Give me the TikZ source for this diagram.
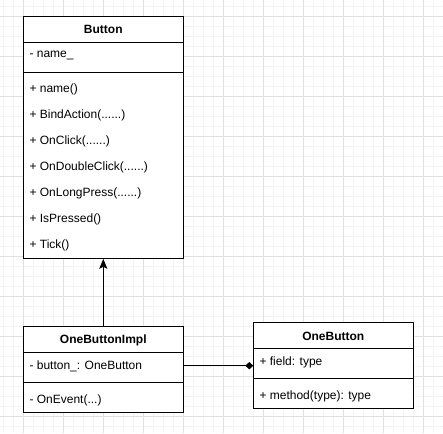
\documentclass[tikz,border=0pt]{standalone}
\usepackage{fontspec}
\setmainfont{Liberation Sans}
\usetikzlibrary{arrows.meta}
\definecolor{gridminor}{HTML}{F4F4F4}
\definecolor{gridmajor}{HTML}{E0E0E0}
\tikzset{
  umlbox/.style={draw=black, fill=white, line width=0.75pt, rectangle, minimum width=120pt, inner sep=0pt},
  title/.style={font=\fontsize{9pt}{10pt}\selectfont\bfseries, inner sep=0pt, anchor=center},
  member/.style={font=\fontsize{9pt}{10pt}\selectfont, inner sep=0pt, anchor=west},
  sepline/.style={line width=0.75pt, draw=black},
  conn/.style={line width=0.75pt, draw=black}
}
\begin{document}
\begin{tikzpicture}[x=0.75pt, y=-0.75pt]
\useasboundingbox (0,0) rectangle (443,433);
\fill[white] (0,0) rectangle (443,433);
% grid
\foreach \x in {3.3,13.3,...,443} \draw[gridminor, line width=0.6pt] (\x,0) -- (\x,433);
\foreach \y in {6.3,16.3,...,433} \draw[gridminor, line width=0.6pt] (0,\y) -- (443,\y);
\foreach \x in {23.3,63.3,...,443} \draw[gridmajor, line width=0.6pt] (\x,0) -- (\x,433);
\foreach \y in {16.3,56.3,...,433} \draw[gridmajor, line width=0.6pt] (0,\y) -- (443,\y);

% Button class
\node[umlbox, minimum height=181.5pt] (button) at (103.3,137.3) {};
\draw[sepline] (23.3,42.3) -- (183.3,42.3);
\draw[sepline] (23.3,72.3) -- (183.3,72.3);
\node[title] (buttontitle) at (103.3,29.6) {Button};
\node[member] (bname) at (29.3,55.6) {- name\_};
\node[member] (m1) at (29.3,89.6) {+ name()};
\node[member] (m2) at (29.3,115.6) {+ BindAction(......)};
\node[member] (m3) at (29.3,141.6) {+ OnClick(......)};
\node[member] (m4) at (29.3,167.6) {+ OnDoubleClick(......)};
\node[member] (m5) at (29.3,193.6) {+ OnLongPress(......)};
\node[member] (m6) at (29.3,219.6) {+ IsPressed()};
\node[member] (m7) at (29.3,245.6) {+ Tick()};

% OneButtonImpl class
\node[umlbox, minimum height=64.5pt] (impl) at (103.3,369.7) {};
\draw[sepline] (23.3,352.7) -- (183.3,352.7);
\draw[sepline] (23.3,382.7) -- (183.3,382.7);
\node[title] (impltitle) at (103.3,339.9) {OneButtonImpl};
\node[member] (implattr) at (29.3,365.9) {- button\_: OneButton};
\node[member] (implmeth) at (29.3,399.9) {- OnEvent(...)};
\coordinate (implattrE) at (183.3,365.7);

% OneButton class
\node[umlbox, minimum height=64.5pt] (ob) at (333.3,365.7) {};
\draw[sepline] (253.3,348.7) -- (413.3,348.7);
\draw[sepline] (253.3,378.7) -- (413.3,378.7);
\node[title] (obtitle) at (333.3,335.9) {OneButton};
\node[member] (obfield) at (259.3,361.9) {+ field: type};
\node[member] (obmeth) at (259.3,395.9) {+ method(type): type};
\coordinate (obfieldW) at (253.3,365.7);

% connectors
\draw[conn, -{Stealth[length=7.5pt,width=6pt,inset=1.5pt]}] (impl.north) -- (button.south);
\draw[conn, -{Diamond[length=6pt,width=5.5pt]}] (implattrE) -- (obfieldW);
\end{tikzpicture}
\end{document}
